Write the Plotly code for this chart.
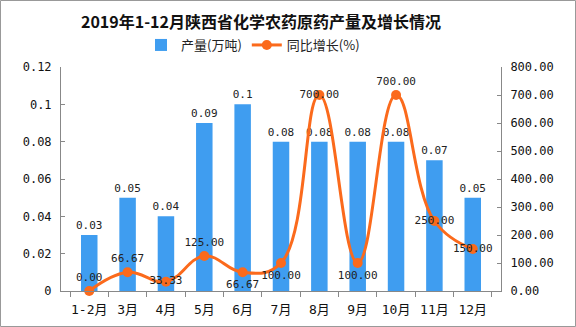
import plotly.graph_objects as go

categories = ["1-2月", "3月", "4月", "5月", "6月", "7月", "8月", "9月", "10月", "11月", "12月"]
output_values = [0.03, 0.05, 0.04, 0.09, 0.1, 0.08, 0.08, 0.08, 0.08, 0.07, 0.05]
output_labels = ["0.03", "0.05", "0.04", "0.09", "0.1", "0.08", "0.08", "0.08", "0.08", "0.07", "0.05"]
growth_values = [0.00, 66.67, 33.33, 125.00, 66.67, 100.00, 700.00, 100.00, 700.00, 250.00, 150.00]
growth_label_pos = ["top center", "top center", "middle center", "top center", "bottom center",
                    "bottom center", "middle center", "bottom center", "top center",
                    "middle center", "middle center"]
left_ticks = [0, 0.02, 0.04, 0.06, 0.08, 0.1, 0.12]
left_tick_text = ["0", "0.02", "0.04", "0.06", "0.08", "0.1", "0.12"]
right_ticks = [0, 100, 200, 300, 400, 500, 600, 700, 800]

BLUE = "#3f9df0"
ORANGE = "#fb6a1c"
MONO = "DejaVu Sans Mono, Noto Sans CJK SC"

fig = go.Figure()
fig.add_trace(go.Bar(
    x=categories, y=output_values, name="产量(万吨)",
    marker=dict(color=BLUE, line=dict(width=0)),
    text=output_labels, textposition="outside", cliponaxis=False,
    constraintext="none",
    textfont=dict(family=MONO, size=11, color="#222"),
    yaxis="y",
))
fig.add_trace(go.Scatter(
    x=categories, y=growth_values, name="同比增长(%)",
    mode="lines+markers+text",
    line=dict(color=ORANGE, width=3, shape="spline", smoothing=1.2),
    marker=dict(color=ORANGE, size=10),
    text=[f"{v:.2f}" for v in growth_values], textposition=growth_label_pos,
    textfont=dict(family=MONO, size=11, color="#222"),
    cliponaxis=False,
    yaxis="y2",
))

L, R, T, B = 61, 75, 67, 36
W, H = 576, 327
pw, ph = W - L - R, H - T - B

def px(x):
    return (x - L) / pw

def py(y):
    return (H - B - y) / ph

fig.update_layout(
    width=W, height=H,
    margin=dict(l=L, r=R, t=T, b=B, pad=0, autoexpand=False),
    paper_bgcolor="white", plot_bgcolor="white",
    bargap=0.57,
    title=dict(text="<b>2019年1-12月陕西省化学农药原药产量及增长情况</b>",
               x=261 / W, xanchor="center", y=1 - 22 / H, yanchor="middle",
               font=dict(family="Noto Sans CJK SC", size=16, color="#111")),
    legend=dict(orientation="h", x=px(253), xanchor="center", y=py(45), yanchor="middle",
                font=dict(family="Noto Sans CJK SC", size=13, color="#222"),
                bgcolor="rgba(0,0,0,0)", itemwidth=30, tracegroupgap=0),
    showlegend=True,
    xaxis=dict(
        showline=True, linecolor="#888", linewidth=1, automargin=False,
        ticks="outside", ticklen=5, tickcolor="#888", tickson="boundaries",
        tickangle=0, ticklabelstandoff=6,
        tickfont=dict(family=MONO, size=13, color="#111"),
        showgrid=False, zeroline=False,
    ),
    yaxis=dict(
        range=[0, 0.12], tickvals=left_ticks, ticktext=left_tick_text,
        showline=True, linecolor="#888", linewidth=1, automargin=False,
        ticks="inside", ticklen=4, tickcolor="#888", ticklabelstandoff=6,
        tickfont=dict(family=MONO, size=12, color="#111"),
        showgrid=False, zeroline=False,
    ),
    yaxis2=dict(
        range=[0, 800], tickvals=right_ticks, tickformat=".2f",
        overlaying="y", side="right", automargin=False,
        showline=True, linecolor="#888", linewidth=1,
        ticks="inside", ticklen=4, tickcolor="#888", ticklabelstandoff=6,
        tickfont=dict(family=MONO, size=12, color="#111"),
        showgrid=False, zeroline=False,
    ),
    shapes=[dict(type="rect", xref="paper", yref="paper",
                 x0=px(0.5), x1=px(W - 0.5), y0=py(0.5), y1=py(H - 0.5),
                 line=dict(color="#999", width=1), fillcolor="rgba(0,0,0,0)", layer="below")],
)

fig.write_html("out.html")
